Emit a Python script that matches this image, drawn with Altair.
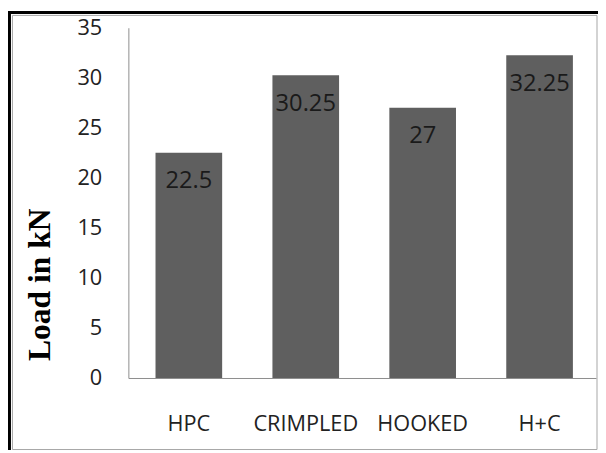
import altair as alt
import pandas as pd

categories = ["HPC", "CRIMPLED", "HOOKED", "H+C"]
loads = [22.5, 30.25, 27, 32.25]
labels = ["22.5", "30.25", "27", "32.25"]
y_ticks = [0, 5, 10, 15, 20, 25, 30, 35]

df = pd.DataFrame({"cat": categories, "load": loads, "lab": labels})

xenc = alt.X("cat:N", sort=categories, title=None,
             scale=alt.Scale(paddingInner=0.43, paddingOuter=0.215, align=0.54),
             axis=alt.Axis(labelAngle=0, labelFont="Open Sans", labelFontSize=22,
                           labelColor="#222222", labelPadding=36, ticks=False,
                           domainColor="#8c8c8c", domainWidth=1))
yenc = alt.Y("load:Q", scale=alt.Scale(domain=[0, 35], nice=False),
             axis=alt.Axis(values=y_ticks, grid=False, ticks=False, tickSize=0,
                           labelFont="Open Sans", labelFontSize=22, labelColor="#222222",
                           labelPadding=27, domainColor="#8c8c8c", domainWidth=1,
                           title="Load in kN", titleFont="Liberation Serif",
                           titleFontSize=32, titleFontWeight="bold", titleColor="#000000",
                           titleAngle=270, titleX=-90, titleY=260,
                           titleAlign="center", titleBaseline="middle"))

base = alt.Chart(df)
bars = base.mark_bar(color="#5f5f5f").encode(x=xenc, y=yenc)
text = base.mark_text(font="Open Sans", fontSize=24, color="#1a1a1a",
                      baseline="middle", dy=29).encode(
    x=alt.X("cat:N", sort=categories), y=alt.Y("load:Q"), text="lab:N")

one = alt.Chart(pd.DataFrame({"a": [0]}))
black_left = one.mark_rule(color="#000000", strokeWidth=3).encode(
    x=alt.value(-120.5), y=alt.value(-17), y2=alt.value(428))
black_top = one.mark_rule(color="#000000", strokeWidth=3).encode(
    x=alt.value(-122), x2=alt.value(476), y=alt.value(-15.5))
gray_frame = one.mark_rect(fillOpacity=0, stroke="#a6a6a6", strokeWidth=1).encode(
    x=alt.value(-117.5), x2=alt.value(475), y=alt.value(-12.5), y2=alt.value(427.5))

chart = alt.layer(bars, text, gray_frame, black_left, black_top).properties(
    width=474, height=355,
    autosize=alt.AutoSizeParams(type="none"),
    padding={"left": 122, "top": 17, "right": 2, "bottom": 73},
    background="white",
).configure_view(strokeWidth=0)

chart.save("out.html", embed_options={"renderer": "svg", "actions": False})
